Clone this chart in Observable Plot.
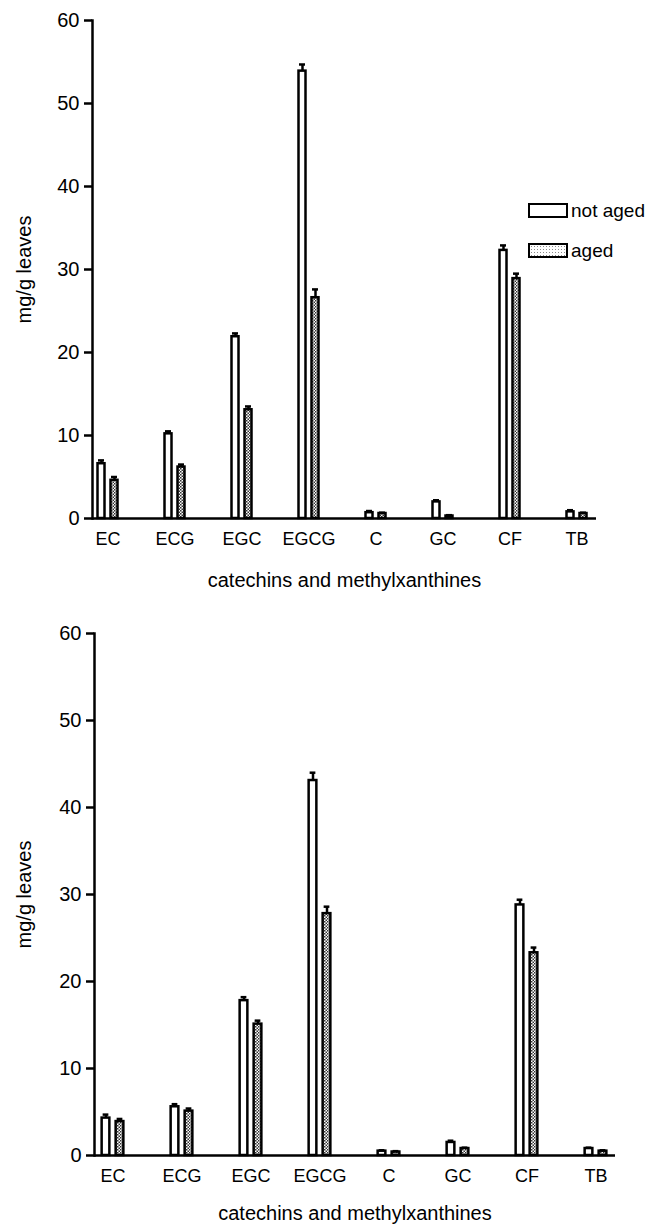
<!DOCTYPE html>
<html><head><meta charset="utf-8">
<script src="https://cdn.jsdelivr.net/npm/d3@7"></script>
<script src="https://cdn.jsdelivr.net/npm/@observablehq/plot@0.6"></script>
<style>
body{margin:0;background:#fff;font-family:"Liberation Sans",Arial,sans-serif;}
#wrap{position:relative;width:653px;height:1226px;overflow:hidden;}
#wrap svg{display:block;}
.leg{position:absolute;left:528px;display:flex;align-items:center;font-size:19px;color:#000;line-height:1;}
.sw{width:36px;height:11px;border:2.5px solid #000;margin-right:3px;background:#fff;}
.sw.dot{background-color:#fff;background-image:radial-gradient(#8a8a8a 0.9px, transparent 1px);background-size:3px 3px;}
</style></head><body>
<div id="wrap"><div id="top"></div><div id="bottom"></div>
<div class="leg" style="top:201px"><div class="sw"></div>not aged</div>
<div class="leg" style="top:241px"><div class="sw dot"></div>aged</div>
</div>
<script>
const categories = ["EC","ECG","EGC","EGCG","C","GC","CF","TB"];
const seriesNames = ["not aged","aged"];
const yTicks = [0,10,20,30,40,50,60];
const yLabel = "mg/g leaves";
const xLabel = "catechins and methylxanthines";

// top panel
const topNotAged    = [6.6, 10.2, 21.9, 53.9, 0.7, 2.0, 32.3, 0.8];
const topNotAgedErr = [0.4, 0.3, 0.4, 0.8, 0.2, 0.2, 0.6, 0.2];
const topAged       = [4.6, 6.2, 13.1, 26.6, 0.6, 0.3, 28.9, 0.6];
const topAgedErr    = [0.4, 0.3, 0.4, 1.0, 0.1, 0.1, 0.6, 0.1];
// bottom panel
const botNotAged    = [4.3, 5.6, 17.8, 43.1, 0.5, 1.5, 28.8, 0.8];
const botNotAgedErr = [0.4, 0.3, 0.4, 0.9, 0.1, 0.2, 0.6, 0.1];
const botAged       = [3.9, 5.1, 15.1, 27.8, 0.4, 0.8, 23.3, 0.5];
const botAgedErr    = [0.3, 0.3, 0.4, 0.8, 0.1, 0.1, 0.6, 0.1];

function chart(o) {
  const rows = categories.map((c, i) => ({c, na: o.na[i], nae: o.nae[i], ag: o.ag[i], age: o.age[i]}));
  const bw = (o.range[1] - o.range[0]) / categories.length, h = bw / 2;
  const off = o.off, w = o.w, cap = 6, sw = 2.5;
  const svg = Plot.plot({
    width: 653, height: o.height,
    marginTop: o.mt, marginBottom: o.mb, marginLeft: o.ml, marginRight: o.mr,
    style: {fontFamily: "'Liberation Sans', Arial, sans-serif", fontSize: "20px", color: "#000", background: "#fff"},
    x: {domain: categories, range: o.range, padding: 0, label: null},
    y: {domain: [0, 60], label: null},
    marks: [
      Plot.barY(rows, {x: "c", y: "na", fill: "#fff", stroke: "#000", strokeWidth: sw,
        insetLeft: h - off - w / 2, insetRight: h + off - w / 2}),
      Plot.barY(rows, {x: "c", y: "ag", fill: `url(#${o.pid})`, stroke: "#000", strokeWidth: sw,
        insetLeft: h + off - w / 2, insetRight: h - off - w / 2}),
      Plot.ruleX(rows, {x: "c", y1: "na", y2: d => d.na + d.nae, dx: -off, strokeWidth: sw}),
      Plot.ruleX(rows, {x: "c", y1: "ag", y2: d => d.ag + d.age, dx: off, strokeWidth: sw}),
      Plot.tickY(rows, {x: "c", y: d => d.na + d.nae, strokeWidth: sw,
        insetLeft: h - off - cap / 2, insetRight: h + off - cap / 2}),
      Plot.tickY(rows, {x: "c", y: d => d.ag + d.age, strokeWidth: sw,
        insetLeft: h + off - cap / 2, insetRight: h - off - cap / 2}),
      Plot.ruleY([0], {strokeWidth: sw}),
      Plot.frame({anchor: "left", strokeWidth: sw}),
      Plot.axisY({ticks: yTicks, tickSize: 8, tickPadding: 5, strokeWidth: sw, label: null, fontSize: 20, tickFormat: d => String(d)}),
      Plot.axisX({tickSize: 0, tickPadding: o.tp, label: null, fontSize: 18}),
      Plot.text([xLabel], {frameAnchor: "bottom", dy: o.xdy, lineAnchor: "middle", fontSize: 20}),
      Plot.text([yLabel], {frameAnchor: "left", dx: 24 - o.ml, rotate: -90, textAnchor: "middle", lineAnchor: "middle", fontSize: 20})
    ]
  });
  const defs = d3.select(svg).insert("defs", ":first-child");
  const p = defs.append("pattern").attr("id", o.pid).attr("patternUnits", "userSpaceOnUse").attr("width", 3).attr("height", 3);
  p.append("rect").attr("width", 3).attr("height", 3).attr("fill", "#fff");
  p.append("rect").attr("width", 1.5).attr("height", 1.5).attr("fill", "#333");
  p.append("rect").attr("x", 1.5).attr("y", 1.5).attr("width", 1.5).attr("height", 1.5).attr("fill", "#333");
  return svg;
}

document.getElementById("top").append(chart({
  na: topNotAged, nae: topNotAgedErr, ag: topAged, age: topAgedErr, pid: "dotsTop",
  height: 600, mt: 20, mb: 82, ml: 92, mr: 57, range: [73.5, 609.5], off: 6.5, w: 7, tp: 14, xdy: 62
}));
document.getElementById("bottom").append(chart({
  na: botNotAged, nae: botNotAgedErr, ag: botAged, age: botAgedErr, pid: "dotsBot",
  height: 626, mt: 33, mb: 71, ml: 94, mr: 38, range: [76.4, 630.6], off: 7, w: 8, tp: 14, xdy: 58
}));
</script>
</body></html>
